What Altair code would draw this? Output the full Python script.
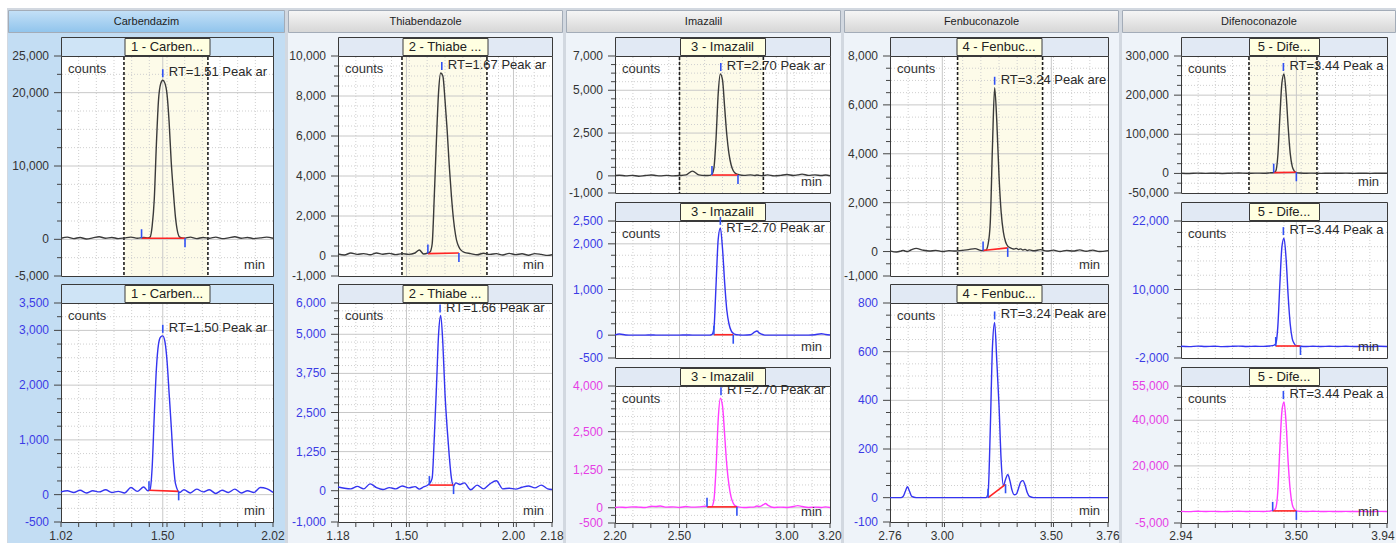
import math
import altair as alt
import pandas as pd

FONT = "Liberation Sans"
W, H = 1396, 543

# ---------------- data ----------------
COMPOUNDS = ["Carbendazim", "Thiabendazole", "Imazalil", "Fenbuconazole", "Difenoconazole"]
PANEL_TITLES = ["1 - Carben...", "2 - Thiabe ...", "3 - Imazalil", "4 - Fenbuc...", "5 - Dife..."]
X_DOMAINS = [(1.02, 2.02), (1.18, 2.18), (2.20, 3.20), (2.76, 3.76), (2.94, 3.94)]
X_LABELS = [[1.02, 1.50, 2.02], [1.18, 1.50, 2.00, 2.18], [2.20, 2.50, 3.00, 3.20],
            [2.76, 3.00, 3.50, 3.76], [2.94, 3.50, 3.94]]

T1 = [1.02, 1.05, 1.08, 1.11, 1.14, 1.17, 1.20, 1.23, 1.26, 1.29, 1.32, 1.35, 1.38, 1.41, 1.43,
      1.44, 1.45, 1.46, 1.47, 1.48, 1.49, 1.50, 1.51, 1.52, 1.53, 1.54, 1.55, 1.56, 1.58, 1.60,
      1.63, 1.66, 1.69, 1.72, 1.75, 1.78, 1.81, 1.84, 1.87, 1.90, 1.93, 1.96, 1.99, 2.02]
CARB_TOP = [150, 300, 100, 250, 50, 200, 350, 150, 250, 100,
            200, 300, 150, 250, 200, 300, 1800, 5500, 13000, 19000,
            21200, 21700, 21300, 19800, 16000, 10500, 6500, 3000, 300, 150,
            300, 100, 250, 150, 300, 100, 200, 350, 150, 250,
            100, 200, 300, 150]
CARB_BOT = [50, 70, 40, 80, 30, 70, 50, 90, 40, 60,
            30, 130, 60, 140, 70, 90, 500, 1450, 2300, 2750,
            2880, 2900, 2800, 2450, 1850, 1250, 600, 200, 40, 90,
            30, 100, 50, 90, 20, 80, 40, 100, 30, 70,
            40, 130, 110, 40]

T2 = [1.18, 1.21, 1.24, 1.27, 1.30, 1.33, 1.36, 1.39, 1.42, 1.45, 1.48, 1.51, 1.54, 1.56, 1.58,
      1.60, 1.61, 1.62, 1.63, 1.64, 1.65, 1.66, 1.67, 1.68, 1.69, 1.70, 1.71, 1.72, 1.73, 1.75,
      1.77, 1.80, 1.83, 1.86, 1.89, 1.92, 1.95, 1.98, 2.01, 2.04, 2.07, 2.10, 2.13, 2.16, 2.18]
THIA_TOP = [100, 50, 150, 80, 120, 60, 150, 90, 130, 70,
            120, 80, 150, 300, 100, 150, 200, 600, 3000, 5800,
            8200, 9150, 9000, 7800, 6300, 4500, 3000, 1800, 1000, 350,
            180, 120, 60, 140, 80, 120, 50, 130, 70, 110,
            40, 120, 80, 30, 60]
THIA_BOT = [120, 80, 60, 140, 60, 220, 100, 40, 100, 60,
            150, 90, 130, 50, 120, 180, 250, 400, 1700, 3300,
            5000, 5600, 4700, 3100, 2000, 1100, 400, 150, 250, 200,
            250, 30, 180, 60, 220, 320, 60, 80, 50, 110,
            150, 90, 180, 60, 40]

T3 = [2.20, 2.22, 2.25, 2.28, 2.31, 2.34, 2.37, 2.39, 2.41, 2.44, 2.47, 2.50, 2.53, 2.56, 2.59,
      2.62, 2.64, 2.65, 2.66, 2.67, 2.68, 2.69, 2.70, 2.71, 2.72, 2.73, 2.74, 2.75, 2.76, 2.78,
      2.80, 2.83, 2.85, 2.86, 2.87, 2.89, 2.90, 2.91, 2.94, 2.97, 3.00, 3.03, 3.05, 3.07, 3.10,
      3.13, 3.16, 3.18, 3.20]
IMAZ_TOP = [20, 40, 0, 30, -20, 20, 50, 20, 0, 30,
            0, 20, 60, 280, 60, 20, 30, 80, 450, 2200,
            4800, 5950, 5600, 4000, 2400, 1300, 650, 300, 150, 60,
            30, 60, 20, 50, 30, 10, 40, 60, 0, 30,
            80, 20, 60, 100, 30, 60, 20, 50, 10]
IMAZ_MID = [5, 25, 5, 0, 0, 0, 5, 0, 0, 0,
            0, 0, 5, 0, 0, 0, 0, 10, 150, 1100,
            2100, 2350, 1900, 1150, 550, 250, 100, 40, 15, 5,
            0, 10, 70, 90, 50, 10, 0, 0, 0, 0,
            0, 0, 0, 0, 0, 10, 30, 15, 5]
IMAZ_BOT = [10, 20, 10, 30, 20, 10, 50, 40, 60, 20,
            30, 10, 40, 20, 30, 50, 30, 40, 250, 1300,
            2900, 3600, 3350, 2400, 1400, 750, 350, 150, 60, 20,
            10, 20, 30, 60, 40, 100, 140, 90, 10, 20,
            10, 40, 70, 40, 10, 20, 10, 30, 10]

T4 = [2.76, 2.79, 2.81, 2.82, 2.83, 2.84, 2.85, 2.86, 2.88, 2.91, 2.94, 2.97, 3.00, 3.03, 3.06,
      3.09, 3.12, 3.15, 3.18, 3.20, 3.21, 3.22, 3.23, 3.24, 3.25, 3.26, 3.27, 3.28, 3.29, 3.30,
      3.31, 3.32, 3.33, 3.34, 3.35, 3.36, 3.37, 3.38, 3.39, 3.40, 3.42, 3.45, 3.48, 3.51, 3.54,
      3.57, 3.60, 3.63, 3.66, 3.69, 3.72, 3.76]
FENB_TOP = [30, -20, 20, 50, 20, 0, 40, 80, 130, 60,
            20, 50, 0, 40, 20, 50, 80, 120, 40, 60,
            300, 1200, 4300, 6700, 5300, 3100, 1600, 800, 400, 220,
            160, 120, 100, 130, 80, 110, 60, 90, 40, 70,
            30, 80, 20, 60, 0, 50, 20, 70, 10, 60,
            0, 40]
FENB_BOT = [0, 0, 0, 5, 25, 45, 25, 5, 0, 0,
            0, 0, 0, 0, 0, 0, 0, 0, 0, 0,
            20, 280, 620, 720, 560, 380, 150, 50, 75, 95,
            70, 30, 12, 15, 40, 65, 70, 50, 20, 5,
            0, 0, 0, 0, 0, 0, 0, 0, 0, 0,
            0, 0]

T5 = [2.94, 2.98, 3.02, 3.06, 3.10, 3.14, 3.18, 3.22, 3.26, 3.30, 3.34, 3.37, 3.39, 3.40, 3.41,
      3.42, 3.43, 3.44, 3.45, 3.46, 3.47, 3.48, 3.49, 3.50, 3.52, 3.55, 3.58, 3.62, 3.66, 3.70,
      3.74, 3.78, 3.82, 3.86, 3.90, 3.94]
DIFE_TOP = [500, 0, 800, 200, 600, 0, 500, 1000, 300, 800,
            500, 1500, 2500, 6000, 45000, 145000, 232000, 254000, 205000, 120000,
            52000, 18000, 6000, 2000, 1000, 500, 800, 200, 600, 300,
            700, 200, 500, 100, 600, 300]
DIFE_MID = [50, 0, 80, 20, 60, 0, 40, 80, 20, 60,
            30, 100, 200, 500, 3500, 11000, 17500, 19000, 15500, 9000,
            4000, 1400, 500, 150, 60, 20, 70, 10, 50, 20,
            60, 10, 40, 0, 50, 20]
DIFE_BOT = [100, 0, 150, 50, 100, 0, 80, 150, 50, 100,
            50, 200, 500, 1500, 9000, 28000, 44000, 48000, 39000, 22000,
            9500, 3200, 1000, 300, 100, 50, 120, 20, 80, 30,
            100, 20, 80, 0, 90, 30]

# panel table: trace, y-axis labels, apex (RT), integration start/end, window
PANELS = [
    dict(col=0, row=0, t=T1, v=CARB_TOP, kind="black", ydom=(-5000, 25000),
         ylab=[25000, 20000, 10000, 0, -5000], ystep=2500, rt="1.51", apex=(1.50, 21700),
         integ=(1.40, 150, 1.605, 150), window=(1.317, 1.713)),
    dict(col=0, row=1, t=T1, v=CARB_BOT, kind="blue", ydom=(-500, 3500),
         ylab=[3500, 3000, 2000, 1000, 0, -500], ystep=250, rt="1.50", apex=(1.50, 2900),
         integ=(1.435, 80, 1.575, 60)),
    dict(col=1, row=0, t=T2, v=THIA_TOP, kind="black", ydom=(-1000, 10000),
         ylab=[10000, 8000, 6000, 4000, 2000, 0, -1000], ystep=500, rt="1.67", apex=(1.665, 9150),
         integ=(1.60, 120, 1.745, 150), window=(1.479, 1.876)),
    dict(col=1, row=1, t=T2, v=THIA_BOT, kind="blue", ydom=(-1000, 6000),
         ylab=[6000, 5000, 3750, 2500, 1250, 0, -1000], ystep=250, rt="1.66", apex=(1.657, 5600),
         integ=(1.607, 180, 1.72, 180)),
    dict(col=2, row=0, t=T3, v=IMAZ_TOP, kind="black", ydom=(-1000, 7000),
         ylab=[7000, 5000, 2500, 0, -1000], ystep=500, rt="2.70", apex=(2.692, 5950),
         integ=(2.651, 50, 2.772, 50), window=(2.50, 2.89)),
    dict(col=2, row=1, t=T3, v=IMAZ_MID, kind="blue", ydom=(-500, 2500),
         ylab=[2500, 2000, 1000, 0, -500], ystep=250, rt="2.70", apex=(2.69, 2350),
         integ=(2.66, 10, 2.75, 10), rt_dy=0),
    dict(col=2, row=2, t=T3, v=IMAZ_BOT, kind="magenta", ydom=(-500, 4000),
         ylab=[4000, 2500, 1250, 0, -500], ystep=250, rt="2.70", apex=(2.693, 3600),
         integ=(2.628, 30, 2.767, 30)),
    dict(col=3, row=0, t=T4, v=FENB_TOP, kind="black", ydom=(-1000, 8000),
         ylab=[8000, 6000, 4000, 2000, 0, -1000], ystep=500, rt="3.24", apex=(3.24, 6700),
         integ=(3.187, 40, 3.30, 150), window=(3.07, 3.46)),
    dict(col=3, row=1, t=T4, v=FENB_BOT, kind="blue", ydom=(-100, 800),
         ylab=[800, 600, 400, 200, 0, -100], ystep=50, rt="3.24", apex=(3.24, 720),
         integ=(3.21, 0, 3.29, 55)),
    dict(col=4, row=0, t=T5, v=DIFE_TOP, kind="black", ydom=(-50000, 300000),
         ylab=[300000, 200000, 100000, 0, -50000], ystep=25000, rt="3.44", apex=(3.437, 254000),
         integ=(3.39, 2000, 3.50, 3000), window=(3.27, 3.60)),
    dict(col=4, row=1, t=T5, v=DIFE_MID, kind="blue", ydom=(-2000, 22000),
         ylab=[22000, 10000, -2000], ystep=2500, rt="3.44", apex=(3.437, 19000),
         integ=(3.40, 100, 3.52, 100)),
    dict(col=4, row=2, t=T5, v=DIFE_BOT, kind="magenta", ydom=(-5000, 55000),
         ylab=[55000, 40000, 20000, -5000], ystep=5000, rt="3.44", apex=(3.437, 48000),
         integ=(3.385, 300, 3.50, 300)),
]

# ---------------- layout / style ----------------
COL_BG = [(8, 285), (288, 563), (566, 841), (844, 1119), (1122, 1396)]
COL_PLOT = [(61, 273), (338, 552), (615, 830), (890, 1108), (1181, 1387)]
NROWS = [2, 2, 3, 2, 3]
ROWS = {2: [(56, 276), (303, 522)], 3: [(56, 193), (221, 358), (386, 523)]}
TITLES = {2: [37, 284], 3: [37, 202, 367]}
BOX_W = [85, 85, 85, 85, 70]
KIND = {
    "black": dict(line="#3a3a3a", label="#333333"),
    "blue": dict(line="#3434f0", label="#3b3be6"),
    "magenta": dict(line="#ff3cff", label="#e53ee5"),
}
GRID_MAJOR = "#c8c8c8"
GRID_MINOR = "#cfcfcf"
ONE = pd.DataFrame({"k": [0]})


def vrect(x0, x1, y0, y1, fill, stroke=None, sw=1.0):
    kw = dict(fill=fill)
    if stroke:
        kw.update(stroke=stroke, strokeWidth=sw)
    else:
        kw.update(strokeWidth=0)
    return alt.Chart(ONE).mark_rect(**kw).encode(
        x=alt.value(x0), x2=alt.value(x1), y=alt.value(y0), y2=alt.value(y1))


def vtext(x, y, txt, size=12, color="#333333", align="center"):
    return alt.Chart(ONE).mark_text(text=txt, fontSize=size, color=color, align=align,
                                    baseline="middle", font=FONT).encode(
        x=alt.value(x), y=alt.value(y))


def grad(c0, c1):
    return alt.LinearGradient(gradient="linear",
                              stops=[alt.GradientStop(color=c0, offset=0),
                                     alt.GradientStop(color=c1, offset=1)],
                              x1=0, x2=0, y1=0, y2=1)


layers = []
layers.append(vrect(7, W, 8, H, "#d2d8e0"))
for ci, (bx0, bx1) in enumerate(COL_BG):
    layers.append(vrect(bx0, bx1, 10, H, "#c3ddf3" if ci == 0 else "#eef3f9"))
    g = grad("#c4e0f7", "#90c4ec") if ci == 0 else grad("#f6f6f6", "#d6d6d6")
    layers.append(vrect(bx0 + 0.5, bx1 - 0.5, 10.5, 32.5, g, stroke="#a3acb8"))
    layers.append(vtext((bx0 + bx1) / 2, 21.5, COMPOUNDS[ci], size=11, color="#1e1e1e"))


def panel_layers(p):
    ci = p["col"]
    n = NROWS[ci]
    x0, x1 = COL_PLOT[ci]
    y0, y1 = ROWS[n][p["row"]]
    ty = TITLES[n][p["row"]]
    xmin, xmax = X_DOMAINS[ci]
    ymin, ymax = p["ydom"]
    style = KIND[p["kind"]]
    bottom = p["row"] == n - 1
    out = []

    # title bar with label box
    out.append(vrect(x0 + 0.5, x1 + 0.5, ty + 0.5, y0 + 0.5,
                     "#cfe4f6" if ci == 0 else "#e1e9f4", stroke="#3a3a3a"))
    cx = (x0 + x1) / 2
    bw = BOX_W[ci]
    out.append(vrect(cx - bw / 2 + 0.5, cx + bw / 2 + 0.5, ty + 1.5, y0 - 0.5, "#ffffe1", stroke="#3a3a3a"))
    out.append(vtext(cx, (ty + y0) / 2 + 0.5, PANEL_TITLES[ci], size=13, color="#222222"))
    # plot area
    out.append(vrect(x0 + 0.5, x1 + 0.5, y0 + 0.5, y1 + 0.5, "#ffffff", stroke="#3a3a3a"))

    xs = alt.Scale(domain=[xmin, xmax], range=[x0, x1], nice=False, zero=False)
    ys = alt.Scale(domain=[ymin, ymax], range=[y1, y0], nice=False, zero=False)
    X = lambda f: alt.X(f, scale=xs, axis=None)
    Y = lambda f: alt.Y(f, scale=ys, axis=None)

    # integration window (top panels)
    if "window" in p:
        w0, w1 = p["window"]
        wdf = pd.DataFrame({"a": [w0], "b": [w1]})
        out.append(alt.Chart(wdf).mark_rect(fill="#fdfbe9", strokeWidth=0).encode(
            x=X("a:Q"), x2="b:Q", y=alt.value(y0 + 1), y2=alt.value(y1)))

    # tick values
    ylab = p["ylab"]
    step = p["ystep"]
    yminor = [k * step for k in range(math.ceil(ymin / step), math.floor(ymax / step) + 1)
              if k * step not in ylab]
    xl = X_LABELS[ci]
    xminor = [round(xmin + k / 12, 4) for k in range(13)]
    xminor = [v for v in xminor if all(abs(v - l) > 0.006 for l in xl)]

    # grid lines
    gy_min = pd.DataFrame({"v": [v for v in yminor if ymin < v < ymax]})
    gy_maj = pd.DataFrame({"v": [v for v in ylab if ymin < v < ymax]})
    gx_min = pd.DataFrame({"t": [v for v in xminor if xmin < v < xmax]})
    gx_maj = pd.DataFrame({"t": [v for v in xl if xmin < v < xmax]})
    out.append(alt.Chart(gx_min).mark_rule(color=GRID_MINOR, strokeWidth=1, strokeDash=[1, 2]).encode(
        x=X("t:Q"), y=alt.value(y0 + 1), y2=alt.value(y1)))
    out.append(alt.Chart(gy_min).mark_rule(color=GRID_MINOR, strokeWidth=1, strokeDash=[1, 2]).encode(
        y=Y("v:Q"), x=alt.value(x0 + 1), x2=alt.value(x1)))
    if len(gx_maj):
        out.append(alt.Chart(gx_maj).mark_rule(color=GRID_MAJOR, strokeWidth=1).encode(
            x=X("t:Q"), y=alt.value(y0 + 1), y2=alt.value(y1)))
    out.append(alt.Chart(gy_maj).mark_rule(color=GRID_MAJOR, strokeWidth=1).encode(
        y=Y("v:Q"), x=alt.value(x0 + 1), x2=alt.value(x1)))

    if "window" in p:
        out.append(alt.Chart(pd.DataFrame({"t": list(p["window"])})).mark_rule(
            color="#1e1e1e", strokeWidth=1.6, strokeDash=[3, 2]).encode(
            x=X("t:Q"), y=alt.value(y0 + 1), y2=alt.value(y1)))

    # y ticks and labels
    out.append(alt.Chart(pd.DataFrame({"v": yminor})).mark_rule(color="#444444", strokeWidth=1).encode(
        y=Y("v:Q"), x=alt.value(x0 - 4), x2=alt.value(x0)))
    out.append(alt.Chart(pd.DataFrame({"v": ylab})).mark_rule(color="#444444", strokeWidth=1).encode(
        y=Y("v:Q"), x=alt.value(x0 - 7), x2=alt.value(x0)))
    ylab_df = pd.DataFrame({"v": ylab, "s": [f"{v:,}" for v in ylab]})
    out.append(alt.Chart(ylab_df).mark_text(align="right", baseline="middle", fontSize=12,
                                            font=FONT, color=style["label"]).encode(
        y=Y("v:Q"), x=alt.value(x0 - 12), text="s:N"))

    # x ticks and labels (bottom panel only)
    if bottom:
        out.append(alt.Chart(pd.DataFrame({"t": xminor + xl})).mark_rule(color="#444444", strokeWidth=1).encode(
            x=X("t:Q"), y=alt.value(y1), y2=alt.value(y1 + 5)))
        inner = xl[:-1] if x1 + 13 > W else xl
        xlab_df = pd.DataFrame({"t": inner, "s": [f"{v:.2f}" for v in inner]})
        out.append(alt.Chart(xlab_df).mark_text(align="center", baseline="middle", fontSize=12,
                                                font=FONT, color="#333333").encode(
            x=X("t:Q"), y=alt.value(H - 7), text="s:N"))
        if len(inner) < len(xl):
            edge_df = pd.DataFrame({"t": xl[-1:], "s": [f"{xl[-1]:.2f}"]})
            out.append(alt.Chart(edge_df).mark_text(align="center", baseline="middle", fontSize=12,
                                                    font=FONT, color="#333333",
                                                    dx=-(x1 + 13 - W)).encode(
                x=X("t:Q"), y=alt.value(H - 7), text="s:N"))

    # trace
    df = pd.DataFrame({"t": p["t"], "v": p["v"]})
    out.append(alt.Chart(df).mark_line(color=style["line"], strokeWidth=1.4,
                                       interpolate="monotone").encode(x=X("t:Q"), y=Y("v:Q")))

    # integration baseline and markers
    s, sy, e, ey = p["integ"]
    out.append(alt.Chart(pd.DataFrame({"t": [s, e], "v": [sy, ey]})).mark_line(
        color="#ff2424", strokeWidth=1.6).encode(x=X("t:Q"), y=Y("v:Q")))
    ax, av = p["apex"]
    for (mt, mv, o1, o2) in [(s, sy, 0, -9), (e, ey, 0, 9), (ax, av, -3, -11)]:
        out.append(alt.Chart(pd.DataFrame({"t": [mt], "v": [mv]})).mark_rule(
            color="#3050f4", strokeWidth=1.6, yOffset=o1, y2Offset=o2).encode(
            x=X("t:Q"), y=Y("v:Q"), y2="v:Q"))

    # texts
    apx = x0 + (ax - xmin) / (xmax - xmin) * (x1 - x0)
    lim = max(10, x1 - (apx + 6) - 1)
    out.append(alt.Chart(pd.DataFrame({"t": [ax], "v": [av]})).mark_text(
        text=f"RT={p['rt']} Peak area", align="left", baseline="middle", dx=6,
        dy=p.get("rt_dy", -8), fontSize=13, font=FONT, color="#2a2a2a",
        limit=lim, ellipsis="\u200b").encode(x=X("t:Q"), y=Y("v:Q")))
    out.append(vtext(x0 + 7, y0 + 13, "counts", size=13, color="#333333", align="left"))
    out.append(vtext(x1 - 8, y1 - 11, "min", size=13, color="#333333", align="right"))
    return alt.layer(*out)


for p in PANELS:
    assert len(p["t"]) == len(p["v"]), (p["rt"], len(p["t"]), len(p["v"]))
    layers.append(panel_layers(p))

chart = alt.layer(*layers).resolve_scale(
    x="independent", y="independent"
).properties(
    width=W, height=H, padding=0, background="white",
    autosize=alt.AutoSizeParams(type="none"),
).configure_view(stroke=None)

chart.save("out.html", embed_options={"renderer": "svg", "actions": False})
